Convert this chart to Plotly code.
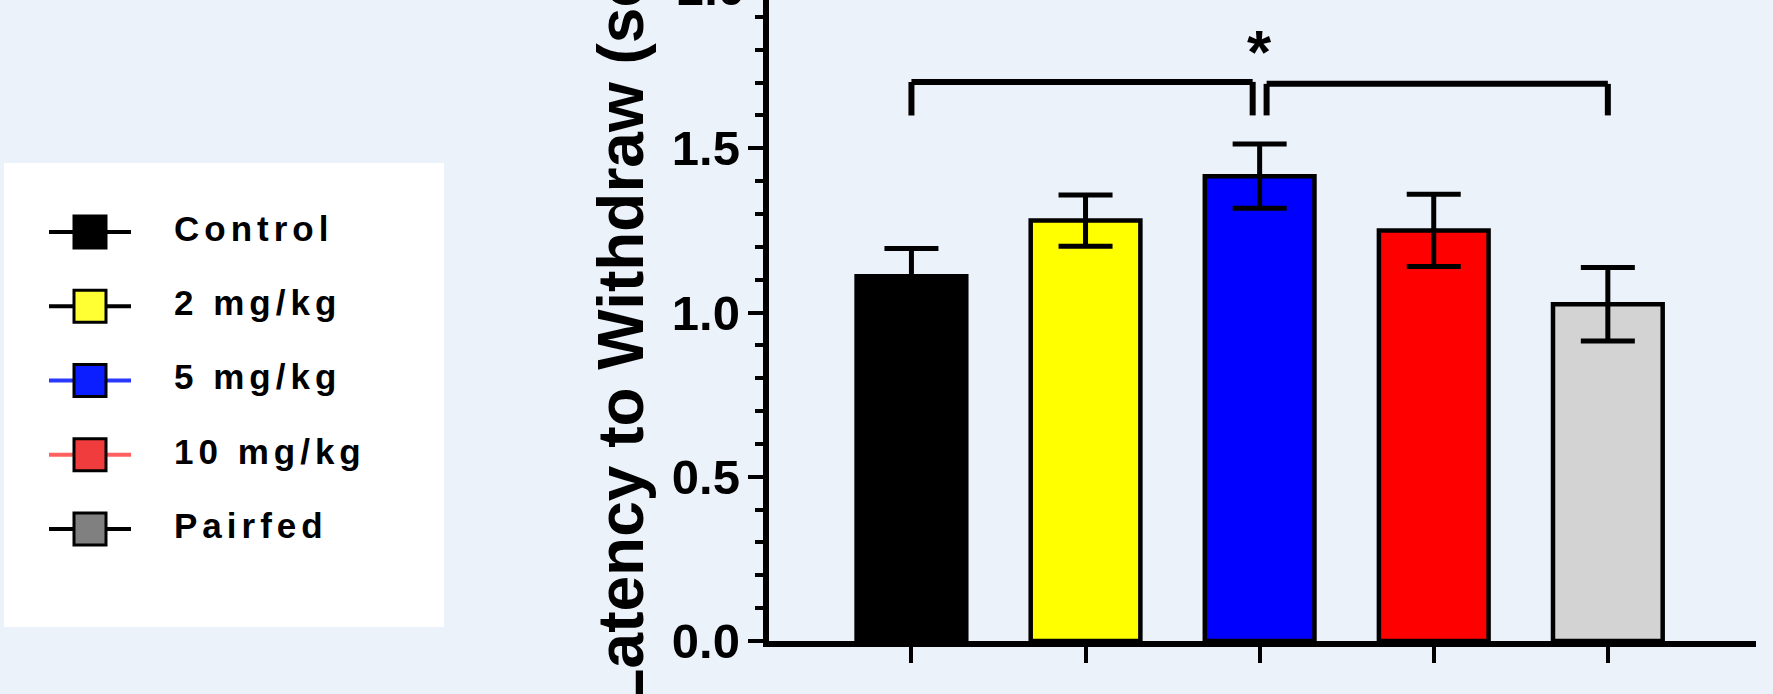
import plotly.graph_objects as go

# ---------------- data ----------------
categories = ["Control", "2 mg/kg", "5 mg/kg", "10 mg/kg", "Pairfed"]
latency_mean = [1.11, 1.28, 1.415, 1.25, 1.025]
latency_sem = [0.085, 0.078, 0.098, 0.11, 0.112]
bar_colors = ["#000000", "#FFFF00", "#0000FF", "#FF0000", "#D3D3D3"]
legend_fill = ["#000000", "#FFFF33", "#0A1EFF", "#F03C3C", "#808080"]
legend_line = ["#000000", "#000000", "#2838FF", "#FF6060", "#000000"]
y_tick_vals = [0.0, 0.5, 1.0, 1.5, 2.0]
comparisons = [("Control", "5 mg/kg"), ("5 mg/kg", "Pairfed")]
sig_label = "*"
y_title = "Latency to Withdraw (sec)"

# ---------------- styling / layout ----------------
W, H = 1773, 694
BG = "#ECF2FA"
FONT = "Arial, Liberation Sans, sans-serif"
M_B = 53
PLOT_H = H - M_B
Y_MAX = PLOT_H / 328.5
X_DOM = [768.5 / W, 1756 / W]
X_RANGE = [-0.821, 4.851]

fig = go.Figure()

fig.add_trace(go.Bar(
    x=categories, y=latency_mean, width=0.63,
    marker=dict(color=bar_colors, line=dict(color="black", width=4.5)),
    error_y=dict(type="data", array=latency_sem, visible=True,
                 color="black", thickness=5, width=27),
    showlegend=False,
))

# ---- custom legend drawn on its own small axes ----
rows = list(range(len(categories)))
for i in rows:
    fig.add_trace(go.Scatter(
        x=[45, 127], y=[i, i], xaxis="x2", yaxis="y2", mode="lines",
        line=dict(color=legend_line[i], width=4),
        showlegend=False, hoverinfo="skip",
    ))
fig.add_trace(go.Scatter(
    x=[86] * len(rows), y=rows, xaxis="x2", yaxis="y2", mode="markers",
    marker=dict(symbol="square", size=32, color=legend_fill,
                line=dict(color="black", width=3)),
    showlegend=False, hoverinfo="skip",
))
fig.add_trace(go.Scatter(
    x=[170] * len(rows), y=rows, xaxis="x2", yaxis="y2", mode="text",
    text=categories, textposition="middle right",
    textfont=dict(size=35, color="black", family=FONT, weight="bold"),
    showlegend=False, hoverinfo="skip",
))

# ---- significance brackets ----
shapes = []
idx = {c: i for i, c in enumerate(categories)}
ends = [c for pair in comparisons for c in pair]
GAP = 0.04
BR_TOP = [1.702, 1.696]
BR_LEG = 1.60
for k, (a, b) in enumerate(comparisons):
    x0, x1 = idx[a], idx[b]
    if ends.count(a) > 1:
        x0 += GAP
    if ends.count(b) > 1:
        x1 -= GAP
    yt = BR_TOP[k]
    for (xa, ya, xb, yb) in [(x0, BR_LEG, x0, yt), (x0, yt, x1, yt), (x1, yt, x1, BR_LEG)]:
        shapes.append(dict(type="line", xref="x", yref="y", x0=xa, y0=ya, x1=xb, y1=yb,
                           line=dict(color="black", width=6)))

# legend white box
shapes.append(dict(type="rect", xref="x2 domain", yref="y2 domain", x0=0, x1=1, y0=0, y1=1,
                   fillcolor="white", line=dict(width=0), layer="below"))

shared = [c for c in set(ends) if ends.count(c) > 1]
star_x = shared[0] if shared else comparisons[0][1]

annotations = [
    dict(text=sig_label, x=star_x, y=1.795, xref="x", yref="y", showarrow=False,
         font=dict(size=62, color="black", family=FONT, weight="bold"), yanchor="middle"),
    dict(text=y_title, textangle=-90, x=620 / W, y=(PLOT_H - 311.5) / PLOT_H,
         xref="paper", yref="paper", showarrow=False, xanchor="center", yanchor="middle",
         font=dict(size=64, color="black", family=FONT, weight="bold")),
    dict(text=f"{y_tick_vals[-1]:.1f}", x=0, y=y_tick_vals[-1] / Y_MAX,
         xref="x domain", yref="y domain", xanchor="right", yanchor="middle",
         xshift=-22, yshift=-4, showarrow=False,
         font=dict(size=49, color="black", family=FONT, weight="bold")),
]

fig.update_layout(
    width=W, height=H,
    margin=dict(l=0, r=0, t=0, b=M_B),
    paper_bgcolor=BG, plot_bgcolor=BG,
    showlegend=False,
    xaxis=dict(domain=X_DOM, range=X_RANGE, showgrid=False, zeroline=False,
               showline=True, linecolor="black", linewidth=5.5,
               ticks="outside", ticklen=16, tickwidth=4, tickcolor="black",
               showticklabels=False, automargin=False, fixedrange=True),
    yaxis=dict(range=[0, Y_MAX], showgrid=False, zeroline=False,
               showline=True, linecolor="black", linewidth=5.5,
               tickvals=y_tick_vals, tickformat=".1f",
               ticks="outside", ticklen=15, tickwidth=4, tickcolor="black",
               tickfont=dict(size=49, color="black", family=FONT, weight="bold"),
               ticklabelstandoff=-2,
               minor=dict(dtick=0.1, ticks="outside", ticklen=8, tickwidth=4,
                          tickcolor="black", showgrid=False),
               automargin=False, fixedrange=True),
    xaxis2=dict(domain=[4 / W, 444 / W], range=[0, 440], anchor="y2",
                showgrid=False, zeroline=False, showline=False,
                showticklabels=False, ticks="", fixedrange=True),
    yaxis2=dict(domain=[(PLOT_H - 627) / PLOT_H, (PLOT_H - 163) / PLOT_H],
                range=[5.32, -0.93], anchor="x2",
                showgrid=False, zeroline=False, showline=False,
                showticklabels=False, ticks="", fixedrange=True),
    shapes=shapes,
    annotations=annotations,
)

post = ("document.body.style.margin='0';"
        "document.body.style.background='" + BG + "';"
        "document.querySelectorAll('.textpoint text').forEach(function(t){"
        "t.style.letterSpacing='5px';});")
fig.write_html("out.html", config={"displayModeBar": False}, post_script=post)
